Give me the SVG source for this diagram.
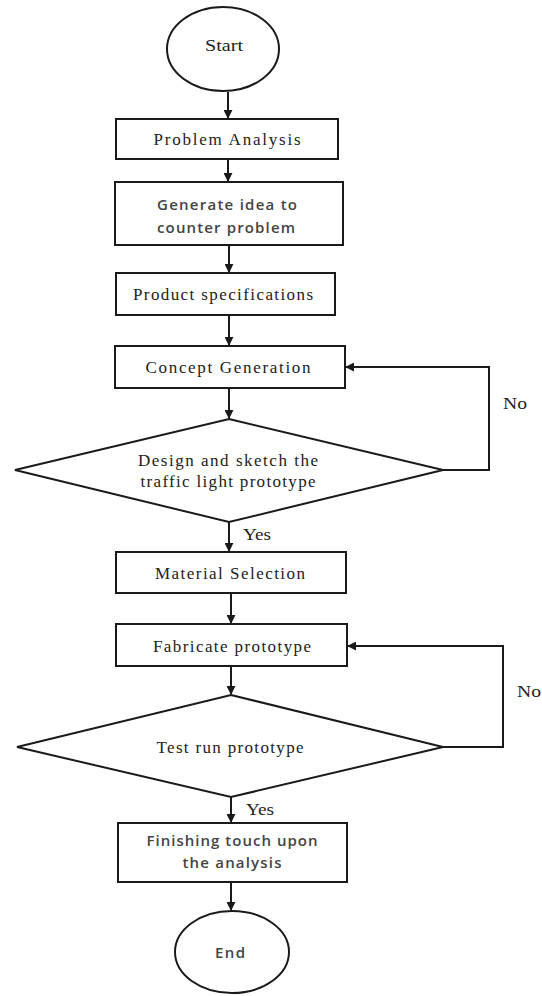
<svg xmlns="http://www.w3.org/2000/svg" width="542" height="996" viewBox="0 0 542 996">
<style>
.s{fill:#fff;stroke:#1a1a1a;stroke-width:2}
.t{font-family:"Liberation Serif","Times New Roman",serif;font-size:17px;fill:#222;text-anchor:middle}
.u{font-family:"Open Sans","Noto Sans",sans-serif;font-size:15px;font-weight:600;fill:#444;text-anchor:middle}
.c{fill:none;stroke:#1a1a1a;stroke-width:2}
</style>
<defs>
<marker id="a" viewBox="0 0 10 10" refX="9" refY="5" markerWidth="4.5" markerHeight="4.5" orient="auto"><path d="M0,0L10,5L0,10z" fill="#1a1a1a"/></marker>
</defs>
<rect width="542" height="996" fill="#fff"/>
<g id="connectors">
<path class="c" d="M228,92V118" marker-end="url(#a)"/>
<path class="c" d="M228,159V181" marker-end="url(#a)"/>
<path class="c" d="M229,245V272" marker-end="url(#a)"/>
<path class="c" d="M229,315V345" marker-end="url(#a)"/>
<path class="c" d="M229,388V418" marker-end="url(#a)"/>
<path class="c" d="M443,470H489V367H346" marker-end="url(#a)"/>
<path class="c" d="M229,522V551" marker-end="url(#a)"/>
<path class="c" d="M231,593V623" marker-end="url(#a)"/>
<path class="c" d="M231,666V694" marker-end="url(#a)"/>
<path class="c" d="M443,747H503V646H348" marker-end="url(#a)"/>
<path class="c" d="M231,797V822" marker-end="url(#a)"/>
<path class="c" d="M231,882V910" marker-end="url(#a)"/>
<text class="t" x="257" y="540" textLength="28" lengthAdjust="spacingAndGlyphs">Yes</text>
<text class="t" x="515" y="409" textLength="24" lengthAdjust="spacingAndGlyphs">No</text>
<text class="t" x="529" y="697" textLength="24" lengthAdjust="spacingAndGlyphs">No</text>
<text class="t" x="260" y="815" textLength="28" lengthAdjust="spacingAndGlyphs">Yes</text>
</g>
<g id="start"><ellipse class="s" cx="223" cy="49" rx="56" ry="42"/><text class="t" x="224" y="51" textLength="38" lengthAdjust="spacingAndGlyphs">Start</text></g>
<g id="problem"><rect class="s" x="116" y="119" width="222" height="40"/><text class="t" x="227" y="145" textLength="147" lengthAdjust="spacing">Problem Analysis</text></g>
<g id="generate"><rect class="s" x="115" y="182" width="228" height="63"/><text class="u" x="227" y="210" textLength="140" lengthAdjust="spacing">Generate idea to</text><text class="u" x="226" y="233" textLength="138" lengthAdjust="spacing">counter problem</text></g>
<g id="product"><rect class="s" x="116" y="273" width="219" height="42"/><text class="t" x="223" y="300" textLength="180" lengthAdjust="spacing">Product specifications</text></g>
<g id="concept"><rect class="s" x="115" y="346" width="230" height="42"/><text class="t" x="228" y="373" textLength="165" lengthAdjust="spacing">Concept Generation</text></g>
<g id="design"><polygon class="s" points="229,419 443,470 229,522 15,470"/><text class="t" x="228" y="466" textLength="180" lengthAdjust="spacing">Design and sketch the</text><text class="t" x="228" y="487" textLength="175" lengthAdjust="spacing">traffic light prototype</text></g>
<g id="material"><rect class="s" x="116" y="552" width="230" height="41"/><text class="t" x="230" y="579" textLength="150" lengthAdjust="spacing">Material Selection</text></g>
<g id="fabricate"><rect class="s" x="116" y="624" width="231" height="42"/><text class="t" x="232" y="652" textLength="158" lengthAdjust="spacing">Fabricate prototype</text></g>
<g id="test"><polygon class="s" points="231,695 443,747 231,797 17,747"/><text class="t" x="230" y="753" textLength="147" lengthAdjust="spacing">Test run prototype</text></g>
<g id="finishing"><rect class="s" x="118" y="823" width="229" height="59"/><text class="u" x="232" y="846" textLength="171" lengthAdjust="spacing">Finishing touch upon</text><text class="u" x="232" y="868" textLength="99" lengthAdjust="spacing">the analysis</text></g>
<g id="end"><ellipse class="s" cx="232" cy="952" rx="57" ry="41"/><text class="u" x="230" y="958" textLength="30" lengthAdjust="spacing">End</text></g>
</svg>
